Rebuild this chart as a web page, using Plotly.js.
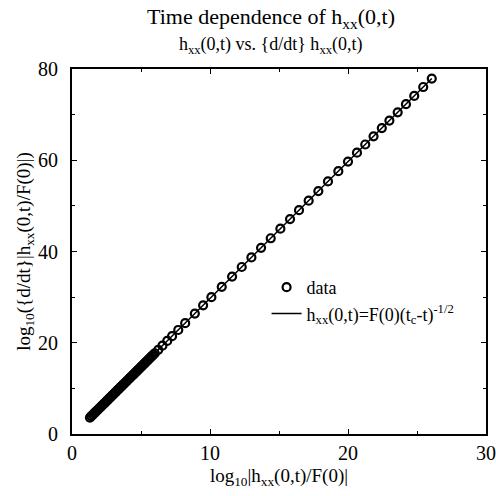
<!DOCTYPE html>
<html>
<head>
<meta charset="utf-8">
<script src="https://cdn.plot.ly/plotly-3.0.1.min.js"></script>
<style>html,body{margin:0;padding:0;background:#fff;}#chart{width:496px;height:496px;}</style>
</head>
<body>
<div id="chart"></div>
<script>
// Data
var dataX = [1.3,1.4,1.5,1.6,1.7,1.8,1.9,2.0,2.1,2.2,2.3,2.4,2.5,2.6,2.7,2.8,2.9,3.0,3.1,3.2,3.3,3.4,3.5,3.6,3.7,3.8,3.9,4.0,4.1,4.2,4.3,4.4,4.5,4.6,4.7,4.8,4.9,5.0,5.1,5.2,5.3,5.4,5.5,5.6,5.7,5.8,5.9,6.0,
  6.25,6.55,6.9,7.25,7.7,8.2,8.9,9.5,10.1,10.85,11.6,12.3,13.0,13.7,14.4,15.1,15.8,16.45,17.15,17.85,18.55,19.3,20.0,20.65,21.25,21.85,22.45,23.0,23.6,24.2,24.8,25.45,26.07];
var dataY = [3.6,3.9,4.2,4.5,4.8,5.1,5.4,5.7,6.0,6.3,6.6,6.9,7.2,7.5,7.8,8.1,8.4,8.7,9.0,9.3,9.6,9.9,10.2,10.5,10.8,11.1,11.4,11.7,12.0,12.3,12.6,12.9,13.2,13.5,13.8,14.1,14.4,14.7,15.0,15.3,15.6,15.9,16.2,16.5,16.8,17.1,17.4,17.7,
  18.45,19.35,20.4,21.45,22.8,24.3,26.4,28.2,30.0,32.25,34.5,36.6,38.7,40.8,42.9,45.0,47.1,49.05,51.15,53.25,55.35,57.6,59.7,61.65,63.45,65.25,67.05,68.7,70.5,72.3,74.1,76.05,77.91];
var fitX = [1.3, 26.07];
var fitY = [3.6, 77.91];
var xTickVals = [0, 10, 20, 30];
var yTickVals = [0, 20, 40, 60, 80];

var serif = 'Liberation Serif, Times New Roman, serif';

var traces = [
  {
    x: dataX, y: dataY, type: 'scatter', mode: 'markers', name: 'data',
    marker: {symbol: 'circle-open', size: 8, color: '#000', line: {width: 2.2, color: '#000'}},
    cliponaxis: false
  },
  {
    x: fitX, y: fitY, type: 'scatter', mode: 'lines',
    name: 'h<sub>xx</sub>(0,t)=F(0)(t<sub>c</sub>-t)<sup>-1/2</sup>',
    line: {color: '#000', width: 1.5}
  }
];

var axisCommon = {
  showline: true, linecolor: '#000', linewidth: 2, mirror: 'ticks',
  ticks: 'inside', ticklen: 5, tickwidth: 1, tickcolor: '#000',
  showgrid: false, zeroline: false,
  tickfont: {family: serif, size: 20, color: '#000'}
};

var layout = {
  width: 496, height: 496,
  margin: {l: 72, r: 10, t: 69, b: 62},
  paper_bgcolor: '#fff', plot_bgcolor: '#fff',
  font: {family: serif, color: '#000'},
  showlegend: true,
  legend: {x: 0.47, y: 0.452, xanchor: 'left', yanchor: 'top', bgcolor: 'rgba(0,0,0,0)',
    font: {family: serif, size: 18, color: '#000'}, tracegroupgap: 0, itemwidth: 30},
  xaxis: Object.assign({}, axisCommon, {
    range: [0, 30], tickvals: xTickVals, ticktext: xTickVals.map(String),
    minor: {dtick: 5, tick0: 0, ticks: 'inside', ticklen: 3, tickcolor: '#000'},
    title: {text: 'log<sub>10</sub>|h<sub>xx</sub>(0,t)/F(0)|', font: {family: serif, size: 19, color: '#000'}, standoff: 6}
  }),
  yaxis: Object.assign({}, axisCommon, {
    range: [0, 80], tickvals: yTickVals, ticktext: yTickVals.map(String),
    ticklabelstandoff: 8,
    minor: {dtick: 10, tick0: 0, ticks: 'inside', ticklen: 3, tickcolor: '#000'},
    title: {text: 'log<sub>10</sub>({d/dt}|h<sub>xx</sub>(0,t)/F(0)|)', font: {family: serif, size: 19, color: '#000'}, standoff: 2}
  }),
  annotations: [
    {text: 'Time dependence of h<sub>xx</sub>(0,t)', xref: 'paper', yref: 'paper', x: 0.48, y: 1, yshift: 51,
     xanchor: 'center', yanchor: 'middle', showarrow: false, font: {family: serif, size: 22, color: '#000'}},
    {text: 'h<sub>xx</sub>(0,t) vs. {d/dt} h<sub>xx</sub>(0,t)', xref: 'paper', yref: 'paper', x: 0.48, y: 1, yshift: 24,
     xanchor: 'center', yanchor: 'middle', showarrow: false, font: {family: serif, size: 18, color: '#000'}}
  ]
};

Plotly.newPlot('chart', traces, layout, {displayModeBar: false, staticPlot: true});
</script>
</body>
</html>
